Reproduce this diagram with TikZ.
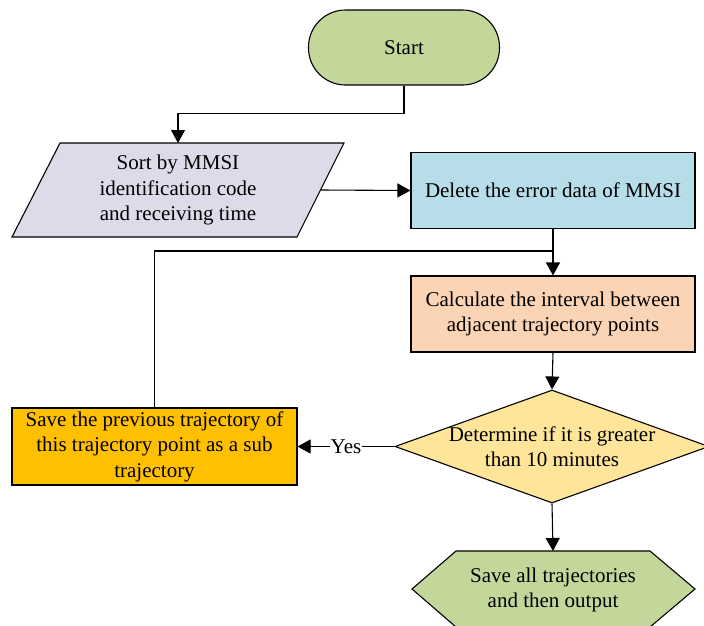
\documentclass[tikz,border=0pt]{standalone}
\usepackage{fontspec}
\setmainfont{Liberation Serif}
\usetikzlibrary{arrows.meta,shapes.geometric}
\definecolor{termgreen}{HTML}{C4D79B}
\definecolor{lavender}{HTML}{DFDAE9}
\definecolor{paleblue}{HTML}{B7DDE8}
\definecolor{salmon}{HTML}{FBD4B6}
\definecolor{paleyellow}{HTML}{FFE599}
\definecolor{amber}{HTML}{FFC000}
\begin{document}
\begin{tikzpicture}[x=1pt,y=-1pt,
  font=\fontsize{21}{25.5}\selectfont,
  outline/.style={draw, line width=1.1pt, line join=miter},
  box/.style={outline, inner sep=0pt, align=center},
  link/.style={draw, line width=1.1pt},
  arr/.style={link, -{Triangle[length=13pt,width=14pt]}}]
\useasboundingbox (0,0) rectangle (704,625);

% terminal
\node[box, fill=termgreen, rounded corners=37pt, minimum width=191pt,
      minimum height=75pt] (start) at (404,47.5) {Start};

% input parallelogram
\path[outline, fill=lavender] (60,143) -- (344,143) -- (297,237) -- (12,237) -- cycle;
\node[align=center] (sort) at (178,190) {Sort by MMSI\\identification code\\and receiving time};
\coordinate (sortT) at (178,143);
\coordinate (sortR) at (321,190);

% processing steps
\node[box, fill=paleblue, minimum width=284pt, minimum height=76pt] (del) at (553,190.5)
  {Delete the error data of MMSI};
\node[box, fill=salmon, minimum width=284pt, minimum height=76pt] (calc) at (553,314)
  {Calculate the interval between\\adjacent trajectory points};

% decision
\node[box, shape=diamond, fill=paleyellow, minimum width=314pt, minimum height=113pt,
      aspect=2.78] (dec) at (552,446.5) {};
\node[align=center] at (dec.center) {Determine if it is greater\\than 10 minutes};

% sub trajectory
\node[box, fill=amber, minimum width=285pt, minimum height=77pt] (sub) at (154.5,446.5)
  {Save the previous trajectory of\\this trajectory point as a sub\\trajectory};

% output hexagon
\path[outline, fill=termgreen] (456,551) -- (650,551) -- (695,589) -- (650,627)
  -- (456,627) -- (412,589) -- cycle;
\node[align=center] (out) at (553,590) {Save all trajectories\\and then output};
\coordinate (outT) at (553,551);

% connectors
\draw[arr] (start.south) -- ++(0,28) -| (sortT);
\draw[arr] (sortR) -- (del.west);
\draw[arr] (del.south) -- (calc.north);
\draw[link] (sub.north) |- (553,251);
\draw[arr] (calc.south) -- (dec.north);
\draw[arr] (dec.west) -- node[fill=white, inner sep=1pt] {Yes} (sub.east);
\draw[arr] (dec.south) -- (outT);
\end{tikzpicture}
\end{document}
